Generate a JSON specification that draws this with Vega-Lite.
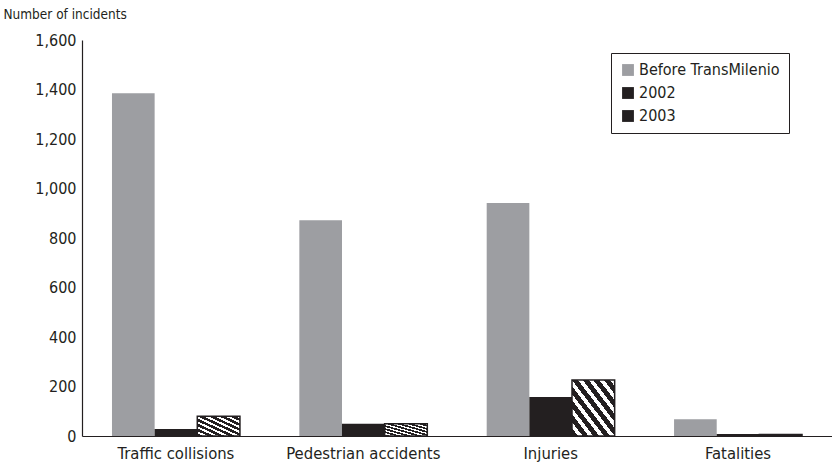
{
  "$schema": "https://vega.github.io/schema/vega-lite/v6.json",
  "width": 750,
  "height": 396,
  "autosize": {"type": "none"},
  "padding": {"left": 82, "top": 40, "right": 0, "bottom": 37},
  "background": "white",
  "config": {
    "view": {"stroke": null},
    "font": "Liberation Sans Narrow, DejaVu Sans Condensed, sans-serif"
  },
  "data": {
    "values": [
      {"category": "Traffic collisions", "series": "Before TransMilenio", "incidents": 1385},
      {"category": "Traffic collisions", "series": "2002", "incidents": 28},
      {"category": "Traffic collisions", "series": "2003", "incidents": 80},
      {"category": "Pedestrian accidents", "series": "Before TransMilenio", "incidents": 872},
      {"category": "Pedestrian accidents", "series": "2002", "incidents": 50},
      {"category": "Pedestrian accidents", "series": "2003", "incidents": 50},
      {"category": "Injuries", "series": "Before TransMilenio", "incidents": 941},
      {"category": "Injuries", "series": "2002", "incidents": 158},
      {"category": "Injuries", "series": "2003", "incidents": 226},
      {"category": "Fatalities", "series": "Before TransMilenio", "incidents": 68},
      {"category": "Fatalities", "series": "2002", "incidents": 8},
      {"category": "Fatalities", "series": "2003", "incidents": 6}
    ]
  },
  "mark": {"type": "bar", "strokeWidth": 1.5},
  "encoding": {
    "x": {
      "field": "category",
      "type": "nominal",
      "sort": null,
      "scale": {"paddingInner": 0.317, "paddingOuter": 0.16},
      "axis": {
        "title": null,
        "labelAngle": 0,
        "ticks": false,
        "domainColor": "#231f20",
        "domainWidth": 1.2,
        "labelFontSize": 16.5,
        "labelColor": "#231f20",
        "labelPadding": 9
      }
    },
    "xOffset": {
      "field": "series",
      "type": "nominal",
      "sort": ["Before TransMilenio", "2002", "2003"],
      "scale": {"paddingInner": 0, "paddingOuter": 0}
    },
    "y": {
      "field": "incidents",
      "type": "quantitative",
      "scale": {"domain": [0, 1600], "nice": false},
      "axis": {
        "title": "Number of incidents",
        "titleAngle": 0,
        "titleAlign": "left",
        "titleBaseline": "middle",
        "titleX": -79,
        "titleY": -26,
        "titleFontSize": 13.5,
        "titleFontWeight": "normal",
        "titleColor": "#231f20",
        "values": [0, 200, 400, 600, 800, 1000, 1200, 1400, 1600],
        "format": ",.0f",
        "grid": false,
        "ticks": false,
        "domainColor": "#231f20",
        "domainWidth": 1.2,
        "labelFontSize": 16,
        "labelColor": "#231f20",
        "labelPadding": 6
      }
    },
    "fill": {
      "condition": {
        "test": "datum.series === '2003'",
        "value": {
          "gradient": "linear",
          "x1": 0, "y1": 1, "x2": 1, "y2": 0,
          "stops": [
            {"offset": 0.0, "color": "#231f20"}, {"offset": 0.07, "color": "#231f20"},
            {"offset": 0.07, "color": "#ffffff"}, {"offset": 0.125, "color": "#ffffff"},
            {"offset": 0.125, "color": "#231f20"}, {"offset": 0.195, "color": "#231f20"},
            {"offset": 0.195, "color": "#ffffff"}, {"offset": 0.25, "color": "#ffffff"},
            {"offset": 0.25, "color": "#231f20"}, {"offset": 0.32, "color": "#231f20"},
            {"offset": 0.32, "color": "#ffffff"}, {"offset": 0.375, "color": "#ffffff"},
            {"offset": 0.375, "color": "#231f20"}, {"offset": 0.445, "color": "#231f20"},
            {"offset": 0.445, "color": "#ffffff"}, {"offset": 0.5, "color": "#ffffff"},
            {"offset": 0.5, "color": "#231f20"}, {"offset": 0.57, "color": "#231f20"},
            {"offset": 0.57, "color": "#ffffff"}, {"offset": 0.625, "color": "#ffffff"},
            {"offset": 0.625, "color": "#231f20"}, {"offset": 0.695, "color": "#231f20"},
            {"offset": 0.695, "color": "#ffffff"}, {"offset": 0.75, "color": "#ffffff"},
            {"offset": 0.75, "color": "#231f20"}, {"offset": 0.82, "color": "#231f20"},
            {"offset": 0.82, "color": "#ffffff"}, {"offset": 0.875, "color": "#ffffff"},
            {"offset": 0.875, "color": "#231f20"}, {"offset": 0.945, "color": "#231f20"},
            {"offset": 0.945, "color": "#ffffff"}, {"offset": 1.0, "color": "#ffffff"}
          ]
        }
      },
      "field": "series",
      "type": "nominal",
      "sort": ["Before TransMilenio", "2002", "2003"],
      "scale": {
        "domain": ["Before TransMilenio", "2002", "2003"],
        "range": ["#9d9ea2", "#231f20", "#231f20"]
      },
      "legend": {
        "title": null,
        "orient": "none",
        "legendX": 529,
        "legendY": 13,
        "symbolType": "square",
        "symbolSize": 140,
        "symbolStrokeWidth": 0,
        "labelFontSize": 16,
        "labelColor": "#231f20",
        "labelOffset": 3,
        "rowPadding": 7,
        "padding": 9,
        "strokeColor": "#231f20",
        "fillColor": "white",
        "labelLimit": 300,
        "encode": {
          "symbols": {
            "update": {
              "fill": {
                "signal": "datum.label === '2003' ? {gradient: 'linear', x1: 0, y1: 0, x2: 1, y2: 1, stops: [{offset: 0, color: '#231f20'}, {offset: 0.42, color: '#231f20'}, {offset: 0.42, color: '#ffffff'}, {offset: 0.62, color: '#ffffff'}, {offset: 0.62, color: '#231f20'}, {offset: 1, color: '#231f20'}]} : (datum.label === '2002' ? '#231f20' : '#9d9ea2')"
              }
            }
          }
        }
      }
    },
    "stroke": {
      "condition": {"test": "datum.series === '2003'", "value": "#231f20"},
      "value": null
    }
  }
}
